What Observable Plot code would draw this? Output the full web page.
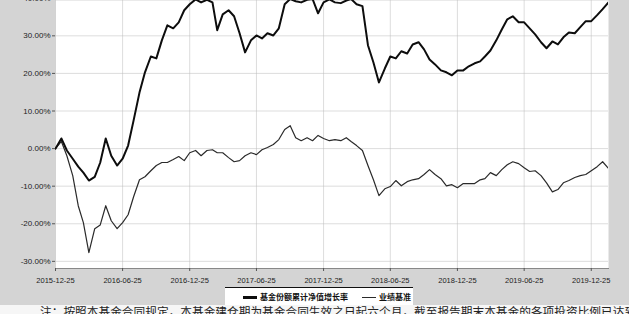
<!DOCTYPE html>
<html><head><meta charset="utf-8">
<script src="https://cdn.jsdelivr.net/npm/d3@7"></script>
<script src="https://cdn.jsdelivr.net/npm/@observablehq/plot@0.6"></script>
<style>
html,body{margin:0;padding:0;background:#d4d4d4;}
#wrap{position:relative;width:629px;height:314px;overflow:hidden;background:#d4d4d4;font-family:"Liberation Sans",Arial,sans-serif;}
#chart svg{display:block;}
#legend{position:absolute;left:225px;top:287px;width:188px;height:17px;background:#fff;border-top:1.5px solid #111;display:flex;align-items:center;font-family:"Noto Sans CJK SC",sans-serif;font-size:8px;font-weight:bold;color:#111;white-space:nowrap;}
#legend .sw{display:inline-block;width:14px;margin-right:3px;vertical-align:middle;}
#note{position:absolute;left:0;top:305px;width:629px;height:12px;background:#f6f6f6;font-family:"Noto Sans CJK SC",sans-serif;font-size:11.7px;line-height:12px;color:#222;white-space:nowrap;padding-left:40px;box-sizing:border-box;}
</style></head>
<body><div id="wrap"><div id="chart"></div><div id="legend"></div><div id="note"></div></div>
<script>
const dates = [
"2015-12-25",
"2016-01-10","2016-01-25","2016-02-10","2016-02-25","2016-03-10","2016-03-25","2016-04-10","2016-04-25","2016-05-10","2016-05-25","2016-06-10","2016-06-25",
"2016-07-10","2016-07-25","2016-08-10","2016-08-25","2016-09-10","2016-09-25","2016-10-10","2016-10-25","2016-11-10","2016-11-25","2016-12-10","2016-12-25",
"2017-01-10","2017-01-25","2017-02-10","2017-02-25","2017-03-10","2017-03-25","2017-04-10","2017-04-25","2017-05-10","2017-05-25","2017-06-10","2017-06-25",
"2017-07-10","2017-07-25","2017-08-10","2017-08-25","2017-09-10","2017-09-25","2017-10-10","2017-10-25","2017-11-10","2017-11-25","2017-12-10","2017-12-25",
"2018-01-10","2018-01-25","2018-02-10","2018-02-25","2018-03-10","2018-03-25","2018-04-10","2018-04-25","2018-05-10","2018-05-25","2018-06-10","2018-06-25",
"2018-07-10","2018-07-25","2018-08-10","2018-08-25","2018-09-10","2018-09-25","2018-10-10","2018-10-25","2018-11-10","2018-11-25","2018-12-10","2018-12-25",
"2019-01-10","2019-01-25","2019-02-10","2019-02-25","2019-03-10","2019-03-25","2019-04-10","2019-04-25","2019-05-10","2019-05-25","2019-06-10","2019-06-25",
"2019-07-10","2019-07-25","2019-08-10","2019-08-25","2019-09-10","2019-09-25","2019-10-10","2019-10-25","2019-11-10","2019-11-25","2019-12-10","2019-12-25",
"2020-01-10","2020-01-25","2020-02-10"
];
const fundValues = [
0, 2.7, -0.5, -2.7, -4.8, -6.4, -8.5, -7.5, -3.7, 2.7,
-1.9, -4.5, -2.7, 0.8, 7.5, 14.9, 20.3, 24.5, 24.0, 28.8,
32.8, 32.0, 33.6, 36.8, 38.4, 39.7, 38.9, 39.6, 38.9, 31.5,
35.7, 36.8, 35.2, 30.7, 25.6, 28.8, 30.1, 29.3, 30.7, 30.1,
32.0, 38.4, 39.8, 39.2, 38.9, 39.6, 39.8, 36.0, 38.9, 39.7,
38.9, 38.7, 39.4, 39.8, 38.4, 37.9, 27.5, 22.9, 17.6, 21.3,
24.5, 24.0, 25.9, 25.3, 27.7, 28.3, 26.4, 23.7, 22.4, 20.8,
20.3, 19.5, 20.8, 20.8, 21.9, 22.7, 23.2, 24.5, 26.1, 28.8,
31.7, 34.4, 35.2, 33.6, 33.6, 32.0, 30.4, 28.3, 26.7, 28.5,
27.7, 29.6, 30.9, 30.7, 32.3, 33.9, 33.9, 35.5, 37.1, 38.9
];
const benchValues = [
0, 1.9, -1.9, -7.2, -15.2, -19.7, -27.7, -21.3, -20.3, -15.2,
-19.2, -21.3, -19.7, -17.6, -12.8, -8.3, -7.5, -5.9, -4.5, -3.7,
-3.7, -2.9, -2.1, -3.2, -1.1, -0.5, -1.9, -0.5, -0.3, -1.1,
-1.1, -2.4, -3.5, -3.2, -1.9, -1.1, -1.6, -0.3, 0.3, 1.1,
2.4, 5.1, 6.1, 2.9, 2.1, 2.9, 2.1, 3.5, 2.7, 2.1,
2.4, 2.1, 2.9, 1.9, 0.8, -0.5, -4.5, -8.3, -12.5, -10.7,
-10.1, -8.5, -9.9, -8.8, -8.3, -8.0, -6.9, -5.6, -6.9, -8.0,
-9.9, -9.6, -10.4, -9.3, -9.3, -9.3, -8.3, -8.0, -6.4, -7.2,
-5.6, -4.3, -3.5, -4.0, -5.1, -6.1, -5.9, -7.2, -9.1, -11.5,
-10.9, -9.1, -8.5, -7.7, -7.2, -6.9, -5.9, -4.8, -3.5, -5.3
];
const xTickLabels = ["2015-12-25","2016-06-25","2016-12-25","2017-06-25","2017-12-25","2018-06-25","2018-12-25","2019-06-25","2019-12-25"];
const yTicks = [-30, -20, -10, 0, 10, 20, 30, 40];
const seriesNames = ["基金份额累计净值增长率", "业绩基准"];
const noteText = "注：按照本基金合同规定，本基金建仓期为基金合同生效之日起六个月，截至报告期末本基金的各项投资比例已达到基金合同的有关约定。";

const parse = d3.utcParse("%Y-%m-%d");
const data = dates.map((d, i) => ({date: parse(d), fund: fundValues[i], bench: benchValues[i]}));
const xTicks = xTickLabels.map(parse);

const chart = Plot.plot({
  width: 629, height: 286,
  marginLeft: 55, marginRight: 21, marginTop: 0, marginBottom: 18,
  style: {background: "transparent", fontFamily: "'Liberation Sans', Arial, sans-serif", color: "#222", overflow: "visible"},
  x: {type: "utc", domain: [data[0].date, data[data.length - 1].date]},
  y: {domain: [-31.9, 39.4]},
  marks: [
    Plot.frame({fill: "#fff", stroke: null}),
    Plot.gridX(xTicks, {stroke: "#bbb", strokeOpacity: 0.5}),
    Plot.gridY(yTicks.filter(v => v < 39.4), {stroke: "#bbb", strokeOpacity: 0.5}),
    Plot.line(data, {x: "date", y: "bench", stroke: "#2a2a2a", strokeWidth: 1.2, clip: true}),
    Plot.line(data, {x: "date", y: "fund", stroke: "#0d0d0d", strokeWidth: 2, clip: true}),
    Plot.frame({anchor: "bottom", stroke: "#888"}),
    Plot.axisX(xTicks, {tickFormat: d3.utcFormat("%Y-%m-%d"), tickSize: 3, tickPadding: 6, fontSize: 7.5, stroke: "#555"}),
    Plot.axisY(yTicks, {tickFormat: d => d.toFixed(2) + "%", tickSize: 3, tickPadding: 2, fontSize: 8, stroke: "#555"})
  ]
});
document.getElementById("chart").appendChild(chart);

const lg = document.getElementById("legend");
lg.innerHTML =
  `<span style="margin-left:18px"><span class="sw" style="border-top:3px solid #0d0d0d"></span>${seriesNames[0]}</span>` +
  `<span style="margin-left:14px"><span class="sw" style="border-top:1.5px solid #2a2a2a"></span>${seriesNames[1]}</span>`;
document.getElementById("note").textContent = noteText;
</script>
</body></html>
